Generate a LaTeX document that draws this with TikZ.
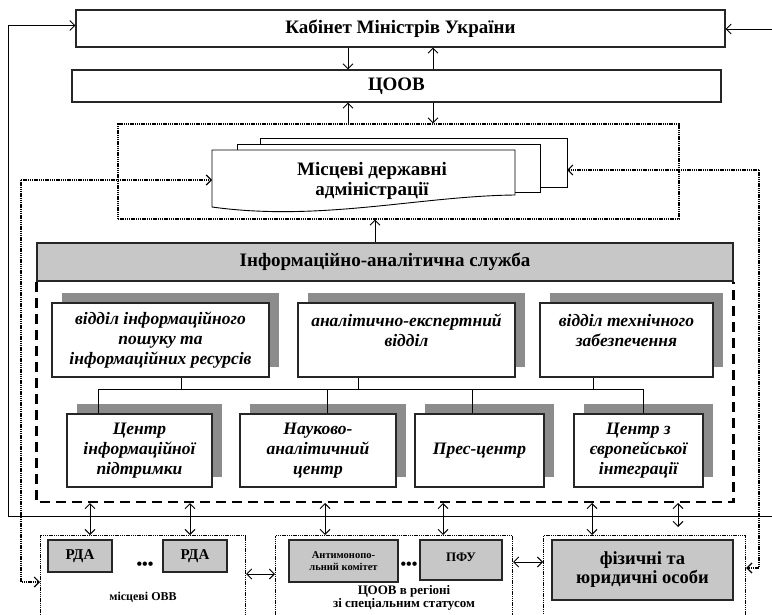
\documentclass[tikz,border=0pt]{standalone}
\usepackage{fontspec}
\setmainfont{Liberation Serif}
\usetikzlibrary{arrows.meta,shadows}

\begin{document}
\begin{tikzpicture}[x=1pt,y=-1pt,line width=0.9pt,
    box/.style={draw=black!85, line width=1.2pt, rectangle, inner sep=0pt, align=center,
        font=\bfseries\fontsize{19}{20}\selectfont},
    gbox/.style={box, fill=black!22},
    obox/.style={box, fill=white, font=\bfseries\itshape\fontsize{17.5}{20}\selectfont,
        drop shadow={shadow xshift=10pt,shadow yshift=10pt,fill=black!45,opacity=1}},
    dotbox/.style={draw, dash pattern=on 1.4pt off 0.8pt, line width=1.2pt, inner sep=0pt},
    dotl/.style={dash pattern=on 1.4pt off 0.8pt, line width=1.2pt},
    tip/.style={-{Straight Barb[length=5pt,width=10pt]}},
    dtip/.style={{Straight Barb[length=5pt,width=10pt]}-{Straight Barb[length=5pt,width=10pt]}}]

    \clip (0,0) rectangle (772,615);
    \fill[white] (0,0) rectangle (772,615);

    % Government level
    \node[box, minimum width=649, minimum height=37] (kmu) at (400.5,28.5) {Кабінет Міністрів України};
    \node[box, minimum width=649, minimum height=32] (coov) at (396.5,86) {ЦООВ};
    \node[dotbox, minimum width=561, minimum height=95] (mda) at (398.5,171.5) {};

    \coordinate (xa) at (348,0);
    \coordinate (xb) at (433,0);
    \draw[tip] (kmu.south -| xa) -- (coov.north -| xa);
    \draw[tip] (coov.north -| xb) -- (kmu.south -| xb);
    \draw[tip] (mda.north -| xa) -- (coov.south -| xa);
    \draw[tip] (coov.south -| xb) -- (mda.north -| xb);

    % Stacked documents
    \draw[fill=white] (260,138) rectangle (567,187);
    \draw[fill=white] (237,144) rectangle (540,192);
    \draw[fill=white] (212,150) -- (515,150) -- (515,195)
        .. controls (420,196) and (320,222) .. (212,207) -- cycle;
    \node[align=center, font=\bfseries\fontsize{19}{20}\selectfont] (mdat) at (372,181) {Місцеві державні\\адміністрації};
    \coordinate (docl) at (212,180);
    \coordinate (docr) at (567,170);

    % Service and its departments
    \node[gbox, minimum width=696, minimum height=38] (ias) at (385,262) {Інформаційно-аналітична служба};
    \draw[tip] (ias.north -| 375,0) -- (mda.south -| 375,0);
    \draw[line width=2.6pt, dash pattern=on 10pt off 6pt] (ias.south west)
        -- (ias.south west |- 0,502) -- (ias.south east |- 0,502) -- (ias.south east);

    \node[obox, minimum width=217, minimum height=74] (t1) at (160.5,340) {відділ інформаційного\\пошуку та\\інформаційних ресурсів};
    \node[obox, minimum width=217, minimum height=74] (t2) at (406.5,340) {аналітично-експертний\\відділ\\\mbox{}};
    \node[obox, minimum width=173, minimum height=74] (t3) at (626.5,340) {відділ технічного\\забезпечення\\\mbox{}};

    \node[obox, minimum width=145, minimum height=73] (b1) at (139.5,450.5) {Центр\\інформаційної\\підтримки};
    \node[obox, minimum width=156, minimum height=73] (b2) at (318,450.5) {Науково-\\аналітичний\\центр};
    \node[obox, minimum width=129, minimum height=73] (b3) at (479.5,450.5) {Прес-центр};
    \node[obox, minimum width=129, minimum height=73] (b4) at (638.5,450.5) {Центр з\\європейської\\інтеграції};

    \coordinate (bus) at (0,389);
    \draw (bus -| 98,0) -- (bus -| 643,0);
    \foreach \n/\x in {t1/181,t2/358,t3/593}
        \draw (\n.south -| \x,0) -- (bus -| \x,0);
    \foreach \n/\x in {b1/98,b2/327,b3/472,b4/643}
        \draw (bus -| \x,0) -- (\n.north -| \x,0);

    % Outer feedback lines
    \coordinate (ll) at (8,516);
    \coordinate (lr) at (772,516);
    \coordinate (rr) at (772,29);
    \draw (lr) -- (ll);
    \draw[tip] (ll) |- ([yshift=3pt]kmu.west);
    \draw[tip] (rr) -- (kmu.east |- rr);

    % Local level
    \node[dotbox, anchor=north west, minimum width=205, minimum height=95] (ovv) at (40,535) {};
    \node[dotbox, anchor=north west, minimum width=237, minimum height=95] (reg) at (275,535) {};
    \node[dotbox, anchor=north west, minimum width=202, minimum height=95] (fizf) at (543,535) {};

    \node[gbox, minimum width=64, minimum height=32, font=\bfseries\fontsize{15}{16}\selectfont] (rda1) at (80,556) {РДА};
    \node[gbox, minimum width=64, minimum height=32, font=\bfseries\fontsize{15}{16}\selectfont] (rda2) at (195,556) {РДА};
    \node[font=\bfseries\fontsize{16}{16}\selectfont, inner sep=0pt] (dots1) at (145,566) {\textbullet\textbullet\textbullet};
    \node[font=\bfseries\fontsize{12}{14}\selectfont] (ovvt) at (143,597) {місцеві ОВВ};

    \node[gbox, minimum width=109, minimum height=42, font=\bfseries\fontsize{10.5}{11.5}\selectfont] (amk) at (343.5,561) {Антимонопо-\\льний комітет};
    \node[font=\bfseries\fontsize{16}{16}\selectfont, inner sep=0pt] (dots2) at (409,566) {\textbullet\textbullet\textbullet};
    \node[gbox, minimum width=82, minimum height=40, font=\bfseries\fontsize{13}{14}\selectfont] (pfu) at (461,560) {\raisebox{5pt}{ПФУ}};
    \node[align=center, font=\bfseries\fontsize{13}{13}\selectfont] (regt) at (404,598) {ЦООВ в регіоні\\зі спеціальним статусом};

    \node[gbox, line width=2.2pt, minimum width=181, minimum height=60, font=\bfseries\fontsize{18.5}{19}\selectfont] (fiz) at (642.5,570) {фізичні та\\юридичні особи};

    % Links between levels
    \coordinate (db) at (0,503);
    \foreach \x in {90,190}
        \draw[dtip] (db -| \x,0) -- (ovv.north -| \x,0);
    \foreach \x in {325,443}
        \draw[dtip] (db -| \x,0) -- (reg.north -| \x,0);
    \draw[dtip] (db -| 592,0) -- (fizf.north -| 592,0);
    \draw[dtip] (db -| 678,0) -- ([yshift=8pt]fizf.north -| 678,0);
    \draw[dtip] (ovv.east |- 0,574) -- (reg.west |- 0,574);
    \draw[dtip] (reg.east |- 0,562) -- (fizf.west |- 0,562);

    % Dotted feedback to local administrations
    \coordinate (dl) at (21,180);
    \coordinate (dr) at (759,170);
    \draw[dotl, tip] (dl) -- (docl);
    \draw[dotl, tip] (dl) |- (ovv.west |- 0,582);
    \draw[dotl, tip] (dr) -- (docr);
    \draw[dotl, tip] (dr) |- (fizf.east |- 0,568);
\end{tikzpicture}
\end{document}
